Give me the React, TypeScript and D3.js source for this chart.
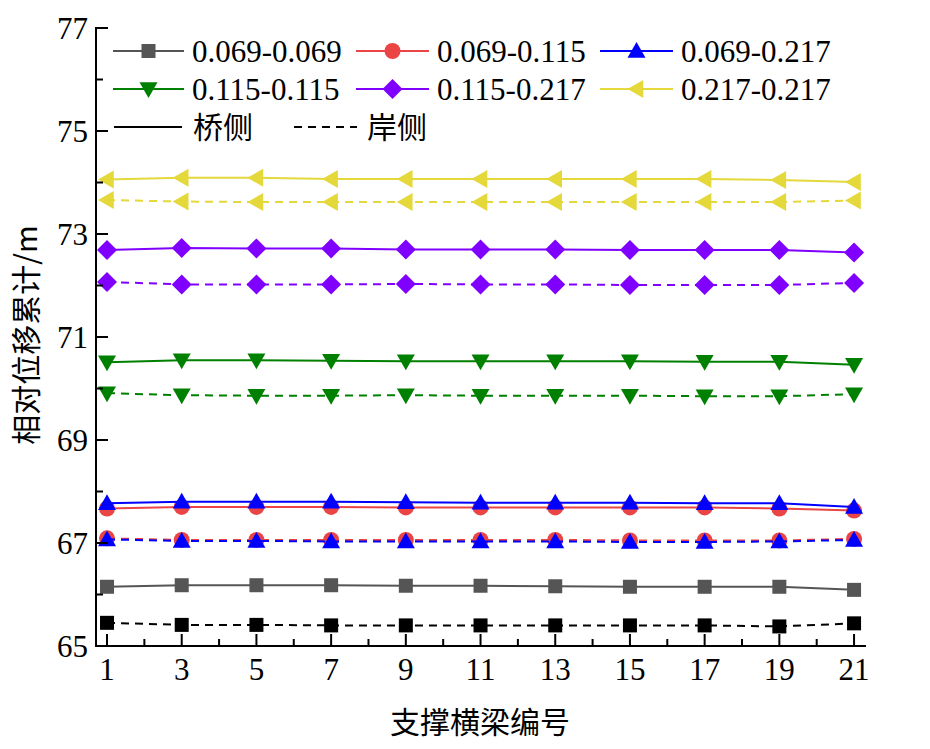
import React from "react";
import * as d3 from "d3";

const beams = [1, 3, 5, 7, 9, 11, 13, 15, 17, 19, 21];
const xTicks = [1, 3, 5, 7, 9, 11, 13, 15, 17, 19, 21];
const xMinorTicks = [2, 4, 6, 8, 10, 12, 14, 16, 18, 20];
const yTicks = [65, 67, 69, 71, 73, 75, 77];
const yMinorTicks = [66, 68, 70, 72, 74, 76];

const seriesNames = ["0.069-0.069", "0.069-0.115", "0.069-0.217", "0.115-0.115", "0.115-0.217", "0.217-0.217"];
const seriesColors = ["#555555", "#ea4444", "#0000ff", "#008000", "#8000ff", "#e4d83a"];
const dashedColors = ["#000000", "#ea4444", "#0000ff", "#008000", "#8000ff", "#e4d83a"];
const seriesMarkers = ["square", "circle", "triangleUp", "triangleDown", "diamond", "triangleLeft"];

// 桥侧 (solid)
const bridge0691 = [66.15, 66.18, 66.18, 66.18, 66.17, 66.17, 66.16, 66.15, 66.15, 66.15, 66.09];
const bridge0692 = [67.67, 67.70, 67.70, 67.70, 67.69, 67.69, 67.69, 67.69, 67.69, 67.67, 67.63];
const bridge0693 = [67.77, 67.80, 67.80, 67.80, 67.79, 67.78, 67.78, 67.78, 67.77, 67.77, 67.70];
const bridge1151 = [70.51, 70.55, 70.55, 70.54, 70.53, 70.53, 70.53, 70.53, 70.52, 70.52, 70.46];
const bridge1152 = [72.69, 72.73, 72.72, 72.72, 72.70, 72.70, 72.70, 72.69, 72.69, 72.69, 72.64];
const bridge2171 = [74.06, 74.09, 74.09, 74.07, 74.07, 74.07, 74.07, 74.07, 74.07, 74.05, 74.01];

// 岸侧 (dashed)
const bank0691 = [65.45, 65.41, 65.41, 65.40, 65.40, 65.40, 65.40, 65.40, 65.40, 65.38, 65.44];
const bank0692 = [67.09, 67.06, 67.06, 67.06, 67.06, 67.06, 67.06, 67.05, 67.05, 67.05, 67.08];
const bank0693 = [67.07, 67.04, 67.04, 67.03, 67.03, 67.03, 67.03, 67.02, 67.02, 67.03, 67.06];
const bank1151 = [69.91, 69.87, 69.86, 69.86, 69.87, 69.86, 69.86, 69.86, 69.85, 69.85, 69.89];
const bank1152 = [72.07, 72.02, 72.02, 72.02, 72.03, 72.02, 72.02, 72.01, 72.01, 72.01, 72.05];
const bank2171 = [73.66, 73.63, 73.62, 73.62, 73.62, 73.62, 73.62, 73.62, 73.62, 73.62, 73.65];

const bridgeSeries = [bridge0691, bridge0692, bridge0693, bridge1151, bridge1152, bridge2171];
const bankSeries = [bank0691, bank0692, bank0693, bank1151, bank1152, bank2171];

const legendSolid = "桥侧";
const legendDashed = "岸侧";
const xTitle = "支撑横梁编号";
const yTitle = "相对位移累计/m";

const W = 930;
const H = 749;
const left = 96;
const right = 866;
const top = 28;
const bottom = 646;

const x = d3.scaleLinear().domain([0.705, 21.32]).range([left, right]);
const y = d3.scaleLinear().domain([65, 77]).range([bottom, top]);

const serif = "'Liberation Serif', 'Times New Roman', serif";
const cjk = "'Noto Sans CJK SC', sans-serif";

function Marker({ type, cx, cy, color }: { type: string; cx: number; cy: number; color: string }) {
  if (type === "square") {
    const s = 14;
    return <rect x={cx - s / 2} y={cy - s / 2} width={s} height={s} fill={color} />;
  }
  if (type === "circle") {
    return <circle cx={cx} cy={cy} r={8} fill={color} />;
  }
  let pts: [number, number][] = [];
  const r = 9;
  if (type === "triangleUp") pts = [[cx, cy - r], [cx + r, cy + r * 0.75], [cx - r, cy + r * 0.75]];
  if (type === "triangleDown") pts = [[cx, cy + r], [cx + r, cy - r * 0.75], [cx - r, cy - r * 0.75]];
  if (type === "triangleLeft") pts = [[cx - r, cy], [cx + r * 0.75, cy - r], [cx + r * 0.75, cy + r]];
  if (type === "diamond") pts = [[cx, cy - 10], [cx + 10, cy], [cx, cy + 10], [cx - 10, cy]];
  return <polygon points={pts.map((p) => p.join(",")).join(" ")} fill={color} />;
}

export default function App() {
  const line = d3
    .line<number>()
    .x((_, i) => x(beams[i]))
    .y((d) => y(d));

  const legendCols = [
    { lx0: 113, lx1: 184, tx: 192 },
    { lx0: 356, lx1: 429, tx: 437 },
    { lx0: 600, lx1: 673, tx: 681 },
  ];
  const legendRows = [51, 89];

  return (
    <svg width={W} height={H} style={{ position: "absolute", left: 0, top: 0, background: "#fff" }}>
      {/* series */}
      {bankSeries.map((s, k) => (
        <g key={"bank" + k}>
          <path d={line(s) || ""} fill="none" stroke={dashedColors[k]} strokeWidth={2} strokeDasharray="8,6" />
          {s.map((v, i) => (
            <Marker key={i} type={seriesMarkers[k]} cx={x(beams[i])} cy={y(v)} color={dashedColors[k]} />
          ))}
        </g>
      ))}
      {bridgeSeries.map((s, k) => (
        <g key={"bridge" + k}>
          <path d={line(s) || ""} fill="none" stroke={seriesColors[k]} strokeWidth={2} />
          {s.map((v, i) => (
            <Marker key={i} type={seriesMarkers[k]} cx={x(beams[i])} cy={y(v)} color={seriesColors[k]} />
          ))}
        </g>
      ))}

      {/* axes */}
      <line x1={left} x2={left} y1={top - 1} y2={bottom + 1} stroke="#000" strokeWidth={2} />
      <line x1={left - 1} x2={right} y1={bottom} y2={bottom} stroke="#000" strokeWidth={2} />
      {yTicks.map((t) => (
        <g key={"yt" + t}>
          <line x1={left} x2={left + 12} y1={y(t)} y2={y(t)} stroke="#000" strokeWidth={2} />
          <text x={88} y={y(t)} dy="0.35em" textAnchor="end" fontFamily={serif} fontSize={31}>
            {t}
          </text>
        </g>
      ))}
      {yMinorTicks.map((t) => (
        <line key={"ym" + t} x1={left} x2={left + 7} y1={y(t)} y2={y(t)} stroke="#000" strokeWidth={2} />
      ))}
      {xTicks.map((t) => (
        <g key={"xt" + t}>
          <line x1={x(t)} x2={x(t)} y1={bottom} y2={bottom - 12} stroke="#000" strokeWidth={2} />
          <text x={x(t)} y={680} textAnchor="middle" fontFamily={serif} fontSize={31}>
            {t}
          </text>
        </g>
      ))}
      {xMinorTicks.map((t) => (
        <line key={"xm" + t} x1={x(t)} x2={x(t)} y1={bottom} y2={bottom - 7} stroke="#000" strokeWidth={2} />
      ))}

      {/* titles */}
      <text x={480} y={733} textAnchor="middle" fontFamily={cjk} fontSize={30}>
        {xTitle}
      </text>
      <text
        transform={`translate(26, 335) rotate(-90)`}
        textAnchor="middle"
        dy="0.35em"
        fontFamily={cjk}
        fontSize={30}
      >
        {yTitle}
      </text>

      {/* legend */}
      {seriesNames.map((name, k) => {
        const col = legendCols[k % 3];
        const ly = legendRows[Math.floor(k / 3)];
        const mx = (col.lx0 + col.lx1) / 2;
        return (
          <g key={"lg" + k}>
            <line x1={col.lx0} x2={col.lx1} y1={ly} y2={ly} stroke={seriesColors[k]} strokeWidth={2} />
            <Marker type={seriesMarkers[k]} cx={mx} cy={ly} color={seriesColors[k]} />
            <text x={col.tx} y={ly} dy="0.35em" fontFamily={serif} fontSize={31}>
              {name}
            </text>
          </g>
        );
      })}
      <line x1={114} x2={182} y1={127} y2={127} stroke="#000" strokeWidth={2} />
      <text x={193} y={127} dy="0.35em" fontFamily={cjk} fontSize={30}>
        {legendSolid}
      </text>
      <line x1={294} x2={357} y1={127} y2={127} stroke="#000" strokeWidth={2} strokeDasharray="8,6" />
      <text x={367} y={127} dy="0.35em" fontFamily={cjk} fontSize={30}>
        {legendDashed}
      </text>
    </svg>
  );
}
